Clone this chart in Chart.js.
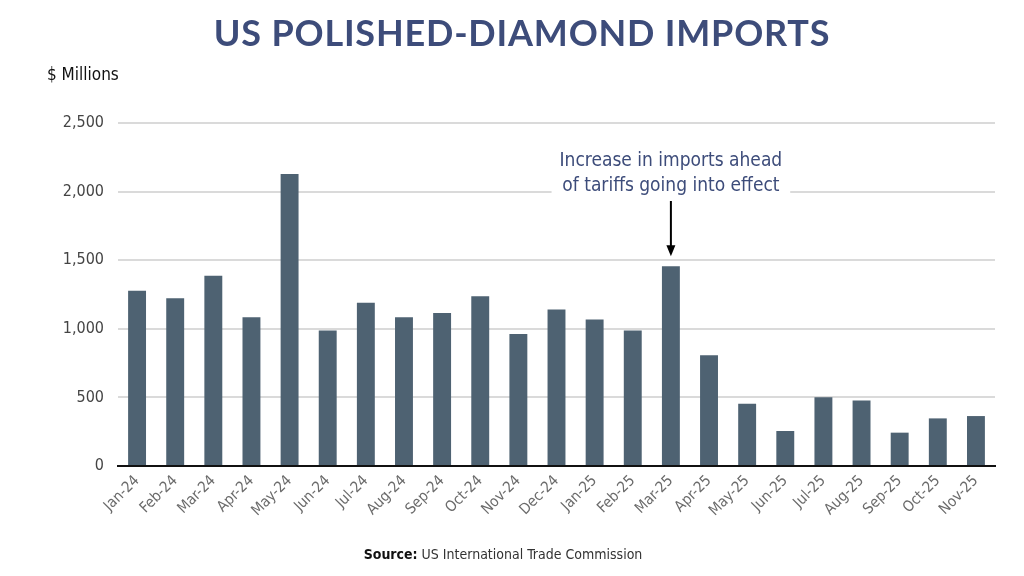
<!DOCTYPE html>
<html>
<head>
<meta charset="utf-8">
<script src="https://cdn.jsdelivr.net/npm/chart.js@4.4.1/dist/chart.umd.min.js"></script>
<style>
  html, body { margin: 0; padding: 0; background: #fff; }
  #wrap { position: relative; width: 1024px; height: 576px; overflow: hidden; }
  #title {
    position: absolute; left: 10px; width: 1024px; top: 10px; text-align: center;
    font-family: Lato, sans-serif; font-weight: 700; font-size: 36px; color: #3d4c7a;
    letter-spacing: 0.8px;
  }
  #unit {
    position: absolute; left: 47px; top: 64px;
    font-family: 'Liberation Sans Narrow', 'DejaVu Sans Condensed', sans-serif;
    font-size: 17px; color: #111;
  }
  #source {
    position: absolute; left: -9px; width: 1024px; top: 546px; text-align: center;
    font-family: 'Liberation Sans Narrow', 'DejaVu Sans Condensed', sans-serif;
    font-size: 14px; color: #333;
  }
  #source b { color: #111; }
  canvas { position: absolute; left: 0; top: 0; }
</style>
</head>
<body>
<div id="wrap">
  <canvas id="importsChart" width="1024" height="576"></canvas>
  <div id="title">US POLISHED-DIAMOND IMPORTS</div>
  <div id="unit">$ Millions</div>
  <div id="source"><b>Source:</b> US International Trade Commission</div>
</div>
<script>
// US polished-diamond imports, $ millions, monthly

const months = ['Jan-24', 'Feb-24', 'Mar-24', 'Apr-24', 'May-24', 'Jun-24', 'Jul-24', 'Aug-24',
  'Sep-24', 'Oct-24', 'Nov-24', 'Dec-24', 'Jan-25', 'Feb-25', 'Mar-25', 'Apr-25', 'May-25',
  'Jun-25', 'Jul-25', 'Aug-25', 'Sep-25', 'Oct-25', 'Nov-25'];

const imports = [1278, 1222, 1387, 1084, 2129, 987, 1190, 1084, 1116, 1237, 963, 1140,
  1067, 987, 1455, 807, 454, 255, 502, 478, 243, 347, 364];

const yTicks = [0, 500, 1000, 1500, 2000, 2500];

const noteMonth = 'Mar-25';
const noteLines = ['Increase in imports ahead', 'of tariffs going into effect'];

const condensed = "'Liberation Sans Narrow', 'DejaVu Sans Condensed', sans-serif";

// annotation text + arrow over the Mar-25 bar
const annotationPlugin = {
  id: 'tariffNote',
  afterDatasetsDraw(chart) {
    const ctx = chart.ctx;
    const xs = chart.scales.x, ys = chart.scales.y;
    const idx = months.indexOf(noteMonth);
    const x = xs.getPixelForValue(idx);
    const barTop = ys.getPixelForValue(imports[idx]);
    ctx.save();
    ctx.font = '19px ' + condensed;
    ctx.textAlign = 'center';
    ctx.textBaseline = 'middle';
    const lineY = [161, 186];
    const w = Math.max(...noteLines.map(t => ctx.measureText(t).width));
    ctx.fillStyle = '#fff';
    ctx.fillRect(x - w / 2 - 8, lineY[0] - 13, w + 16, lineY[1] - lineY[0] + 26);
    ctx.fillStyle = '#3d4c7a';
    noteLines.forEach((t, i) => ctx.fillText(t, x, lineY[i]));
    // arrow
    const y0 = 201, y1 = barTop - 10;
    ctx.strokeStyle = '#000';
    ctx.lineWidth = 2;
    ctx.beginPath();
    ctx.moveTo(x, y0);
    ctx.lineTo(x, y1 - 6);
    ctx.stroke();
    ctx.fillStyle = '#000';
    ctx.beginPath();
    ctx.moveTo(x, y1);
    ctx.lineTo(x - 4.5, y1 - 11);
    ctx.lineTo(x + 4.5, y1 - 11);
    ctx.closePath();
    ctx.fill();
    ctx.restore();
  }
};

new Chart(document.getElementById('importsChart'), {
  type: 'bar',
  data: {
    labels: months,
    datasets: [{
      data: imports,
      backgroundColor: '#4e6272',
      barPercentage: 0.47,
      categoryPercentage: 1.0
    }]
  },
  options: {
    responsive: false,
    animation: false,
    layout: { padding: { top: 123, right: 29, left: 0, bottom: 0 } },
    plugins: {
      legend: { display: false },
      tooltip: { enabled: false }
    },
    scales: {
      x: {
        afterFit: s => { s.height = 110; },
        grid: { display: false, drawTicks: false },
        border: { display: true, color: '#111', width: 2 },
        ticks: {
          minRotation: 45,
          maxRotation: 45,
          padding: 6,
          color: '#6b6b6b',
          font: { family: condensed, size: 15 }
        }
      },
      y: {
        min: 0,
        max: 2500,
        afterFit: s => { s.width = 118; },
        afterBuildTicks: s => { s.ticks = yTicks.map(v => ({ value: v })); },
        grid: { color: '#dadada', lineWidth: 2, drawTicks: false },
        border: { display: false },
        ticks: {
          padding: 14,
          color: '#444',
          font: { family: condensed, size: 16 },
          callback: v => v.toLocaleString('en-US')
        }
      }
    }
  },
  plugins: [annotationPlugin]
});
</script>
</body>
</html>
